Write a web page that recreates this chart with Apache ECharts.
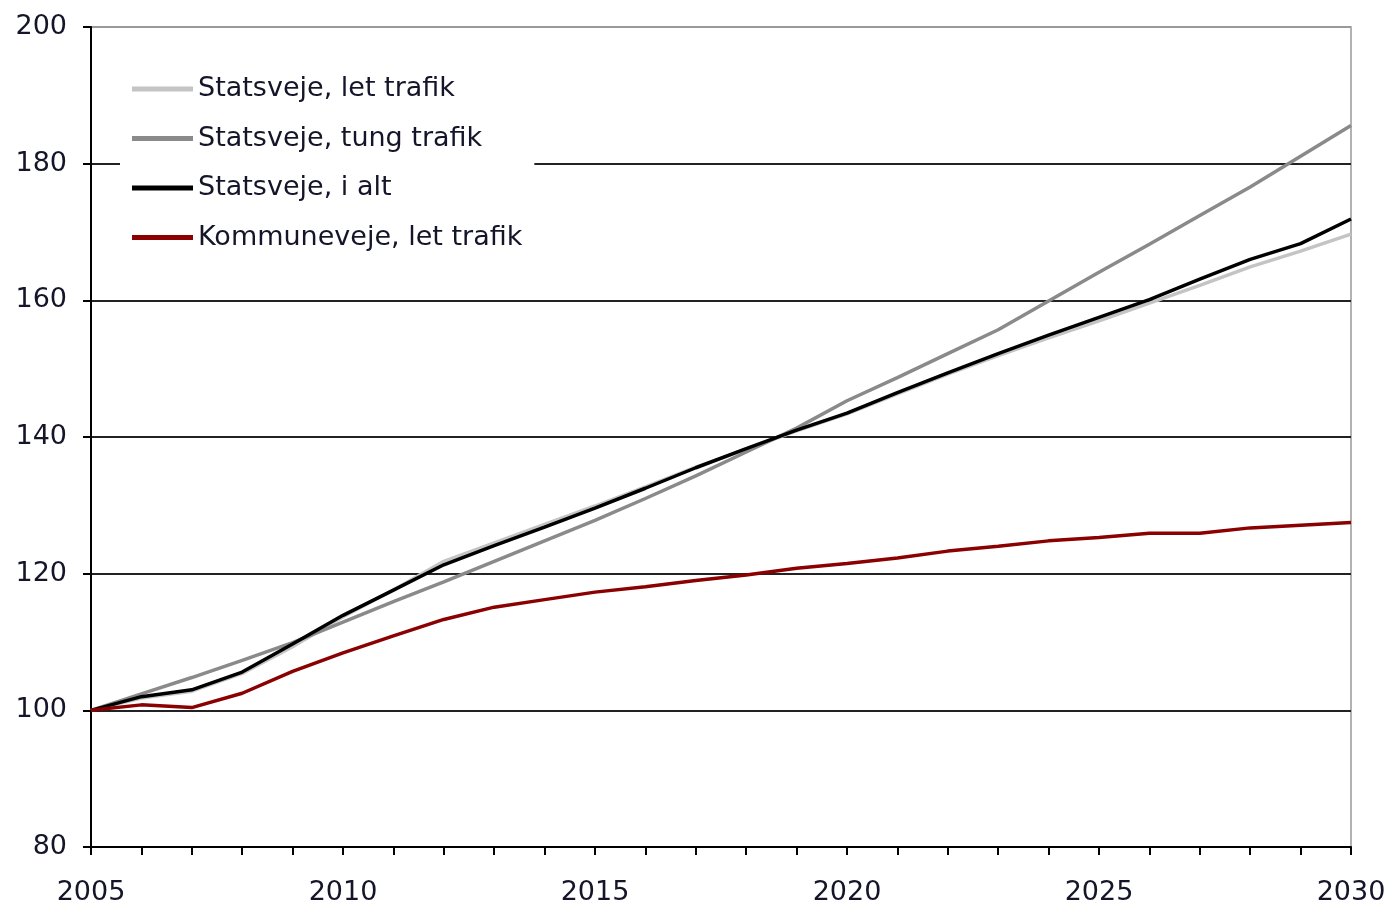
<!DOCTYPE html>
<html>
<head>
<meta charset="utf-8">
<script src="https://cdn.jsdelivr.net/npm/echarts@6/dist/echarts.min.js"></script>
<style>
html,body{margin:0;padding:0;background:#fff;}
#chart{width:1392px;height:906px;}
</style>
</head>
<body>
<div id="chart"></div>
<script>
var years = ['2005','2006','2007','2008','2009','2010','2011','2012','2013','2014','2015','2016','2017','2018','2019','2020','2021','2022','2023','2024','2025','2026','2027','2028','2029','2030'];
var statsLet = [100,101.8,102.8,105.4,109.3,113.7,117.6,121.8,124.5,127.2,129.9,132.7,135.6,138.2,140.9,143.4,146.3,149.2,151.9,154.5,157.0,159.6,162.2,164.9,167.2,169.7];
var statsTung = [100,102.4,104.8,107.3,109.9,112.9,115.9,118.8,121.8,124.8,127.8,131.0,134.3,137.8,141.3,145.3,148.7,152.2,155.7,159.9,164.1,168.2,172.4,176.6,181.1,185.6];
var statsIalt = [100,102.0,103.0,105.6,109.7,113.9,117.6,121.3,124.1,126.8,129.6,132.5,135.5,138.3,141.0,143.5,146.5,149.4,152.2,154.9,157.5,160.1,163.1,166.0,168.3,171.9];
var kommuneLet = [100,100.8,100.4,102.5,105.7,108.4,110.9,113.3,115.1,116.2,117.3,118.1,119.0,119.8,120.8,121.5,122.3,123.3,124.0,124.8,125.3,125.9,125.9,126.7,127.1,127.5];
var seriesNames = ['Statsveje, let trafik','Statsveje, tung trafik','Statsveje, i alt','Kommuneveje, let trafik'];
var seriesColors = ['#c4c4c4','#8a8a8a','#000000','#8b0000'];
var yTicks = {min:80, max:200, interval:20};

var FONT = 'DejaVu Sans';
var TXT = '#15152a';
var chart = echarts.init(document.getElementById('chart'));
var dataSets = [statsLet, statsTung, statsIalt, kommuneLet];
chart.setOption({
  animation:false,
  backgroundColor:'#fff',
  grid:{left:91, right:41, top:27, bottom:59, show:true, borderColor:'#999', borderWidth:1.5, backgroundColor:'transparent'},
  legend:{
    orient:'vertical', left:120, top:66,
    padding:[8,12,8,12],
    backgroundColor:'#fff',
    icon:'rect', itemWidth:61, itemHeight:5, itemGap:19.5,
    textStyle:{fontFamily:FONT, fontSize:27, color:TXT, lineHeight:30},
    data:seriesNames
  },
  xAxis:{
    type:'category', data:years, boundaryGap:false,
    axisLine:{show:true, lineStyle:{color:'#000', width:2}},
    axisTick:{show:true, interval:0, length:8, lineStyle:{color:'#000', width:2}},
    axisLabel:{interval:4, margin:32, fontFamily:FONT, fontSize:27, color:TXT},
    splitLine:{show:false}
  },
  yAxis:{
    type:'value', min:yTicks.min, max:yTicks.max, interval:yTicks.interval,
    axisLine:{show:true, lineStyle:{color:'#000', width:2}},
    axisTick:{show:true, length:8, lineStyle:{color:'#000', width:2}},
    axisLabel:{margin:24, fontFamily:FONT, fontSize:27, color:TXT},
    splitLine:{show:true, lineStyle:{color:['#000','#222','#222','#222','#222','#222','#999'], width:2}}
  },
  series: seriesNames.map(function(n,i){
    return {name:n, type:'line', data:dataSets[i], showSymbol:false, symbol:'none',
      lineStyle:{color:seriesColors[i], width:3.5}, itemStyle:{color:seriesColors[i]}, z:2+i};
  })
});
</script>
</body>
</html>
